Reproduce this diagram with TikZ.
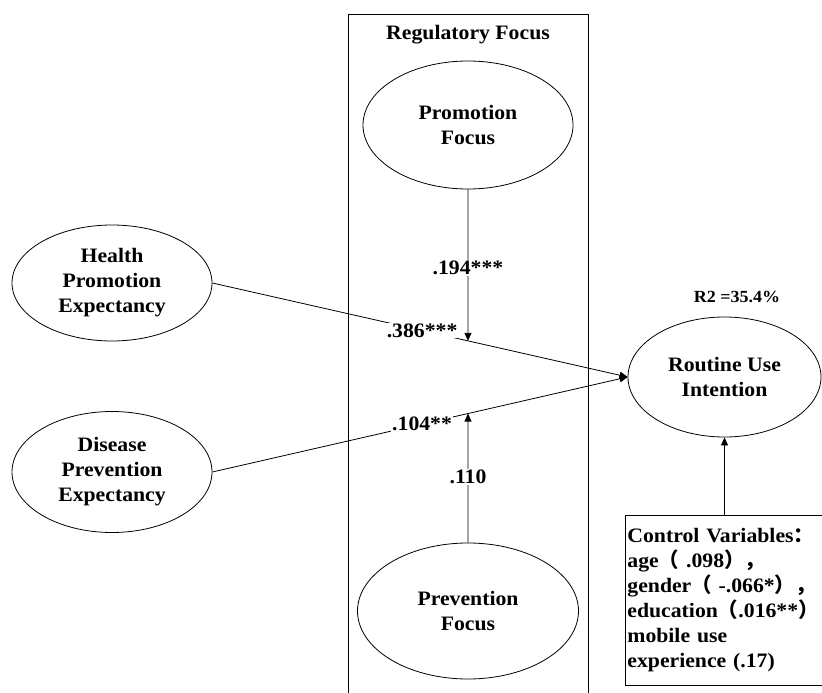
\documentclass[tikz,border=0pt]{standalone}
\usepackage{fontspec}
\setmainfont{Liberation Serif}[FakeStretch=1.06]
\newfontfamily\cjk{Noto Sans CJK SC}
\usetikzlibrary{arrows.meta,shapes.geometric}

\begin{document}
\begin{tikzpicture}[x=1pt,y=-1pt,
  line width=0.8pt,
  every node/.style={font=\bfseries\fontsize{20.5}{25}\selectfont},
  construct/.style 2 args={ellipse,draw,minimum width=#1,minimum height=#2,
    inner sep=0pt,align=center},
  conn/.style={-{Triangle[length=8pt,width=7pt]}},
  coef/.style={fill=white,inner sep=1pt}]

\useasboundingbox (0,0) rectangle (822,693);

% moderator frame (runs past the lower page edge)
\node (frame) [draw,anchor=north,minimum width=240,minimum height=700,inner sep=0pt] at (468,14) {};
\node (frametitle) [anchor=north] at ([yshift=-8pt]frame.north) {Regulatory Focus};

% constructs
\node[construct={200}{116}] (health)  at (112,283) {Health\\Promotion\\Expectancy};
\node[construct={200}{121}] (disease) at (112,472) {Disease\\Prevention\\Expectancy};
\node[construct={210}{128}] (prom)    at (468,125) {Promotion\\Focus};
\node[construct={221}{136}] (prev)    at (468,611) {Prevention\\Focus};
\node[construct={193}{120}] (routine) at (724.5,377) {Routine Use\\Intention};

\node (r2) [font=\bfseries\fontsize{17}{20}\selectfont] at (737,297) {R2 =35.4\%};

% control variables
\node (ctrl) [draw,anchor=north west,align=left,text width=196pt,inner xsep=2pt,
  minimum height=170pt] at (625,515)
  {Control Variables{\cjk ：}\\
   age{\cjk （} .098{\cjk ）}{\cjk ，}\\
   gender{\cjk （} -.066*{\cjk ）}{\cjk ，}\\
   education{\cjk （}.016**{\cjk ）}\\
   mobile use\\
   experience (.17)};

% direct paths
\draw[conn] (health.east) -- node[coef,pos=0.505] {.386***} (routine.west);
\draw[conn] (disease.east) -- node[coef,pos=0.505] {.104**} (routine.west);

% moderation points on the direct paths
\coordinate (m1) at (intersection of health.east--routine.west and prom.south--prev.north);
\coordinate (m2) at (intersection of disease.east--routine.west and prom.south--prev.north);

\draw[conn] (prom.south) -- node[coef,pos=0.52] {.194***} (m1);
\draw[conn] (prev.north) -- node[coef,pos=0.51] {.110} (m2);

\draw[conn] (ctrl.north -| routine.south) -- (routine.south);
\end{tikzpicture}
\end{document}
